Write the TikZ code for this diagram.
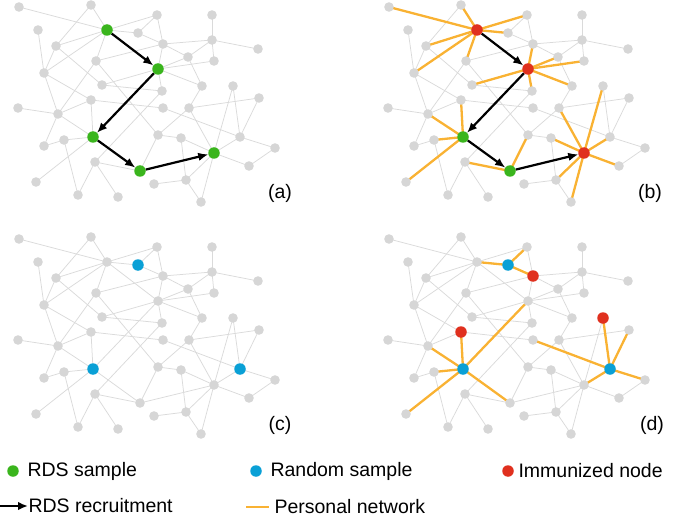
\documentclass[tikz,border=0pt]{standalone}
\usepackage{fontspec}
\setmainfont{Liberation Sans}
\usetikzlibrary{arrows.meta}
\pgfdeclarelayer{bg}\pgfsetlayers{bg,main}
\definecolor{ngray}{HTML}{D6D6D6}
\definecolor{egray}{HTML}{DADADA}
\definecolor{rdsgreen}{HTML}{3AB51D}
\definecolor{rndblue}{HTML}{0AA0D6}
\definecolor{immred}{HTML}{E0301E}
\definecolor{pnorange}{HTML}{F9B233}
\newcommand\netnodes{A/19/7,B/91/5,C/38/30,D/107/30,E/56/46,F/96/61,G/44/73,H/102/85,I/91/100,J/157/15,K/138/33,L/163/44,M/212/15,N/212/40,O/188/57,P/214/61,Q/158/69,R/202/86,S/233/86,T/162/91,U/258/49,V/259/98,W/18/108,X/58/114,Y/93/137,Z/64/140,a/44/146,b/95/162,c/36/182,d/78/195,e/118/197,f/163/108,g/189/108,h/158/135,i/181/138,j/240/137,k/214/153,l/140/171,m/154/184,n/186/180,o/249/166,p/201/202,q/275/148}
\newcommand\netedges{A/D,B/D,B/E,C/G,E/D,E/G,E/H,D/F,D/G,D/J,D/K,D/Q,J/K,J/L,K/L,L/N,L/F,L/O,L/Q,M/N,N/O,N/P,N/U,O/R,O/Q,P/Q,Q/H,Q/R,Q/T,Q/Y,H/T,F/X,G/X,G/I,I/X,I/Y,I/f,F/h,R/g,g/V,g/h,g/k,h/l,h/i,i/n,i/k,j/S,j/V,j/q,j/k,j/f,k/S,k/o,k/n,k/p,k/l,q/o,l/Y,l/b,b/d,b/e,b/T,W/X,X/Y,X/a,Z/a,Z/d,Z/Y,c/Y,m/n,n/p}
\newcommand\drawnet[3]{%
  \foreach \n/\x/\y in \netnodes {\node[gnode] (#1\n) at (\x+#2,\y+#3) {};}
  \begin{pgfonlayer}{bg}
    \foreach \u/\v in \netedges {\draw[edge] (#1\u.center) -- (#1\v.center);}
  \end{pgfonlayer}}
\begin{document}
\begin{tikzpicture}[x=1pt,y=-1pt,
  gnode/.style={circle,fill=ngray,inner sep=0pt,minimum size=9.6pt},
  cnode/.style={circle,inner sep=0pt,minimum size=11.5pt},
  edge/.style={egray,line width=0.75pt},
  pedge/.style={pnorange,line width=2.3pt},
  rec/.style={black,line width=2.2pt,-{Latex[length=10pt,width=8.5pt]}},
  lab/.style={font=\fontsize{19.5}{22}\selectfont}]
\useasboundingbox (0,0) rectangle (675,524);
% ---------- panel (a)
\drawnet{a}{0}{0}
\foreach \n in {D,Q,Y,l,k} {\node[cnode,fill=rdsgreen] (ag\n) at (a\n) {};}
\draw[rec] (agD) -- (agQ);
\draw[rec] (agQ) -- (agY);
\draw[rec] (agY) -- (agl);
\draw[rec] (agl) -- (agk);
\node[lab] (la) at (280,193) {(a)};
% ---------- panel (b)
\drawnet{b}{370}{0}
\begin{pgfonlayer}{bg}
  \foreach \u/\v in {D/A,D/B,D/J,D/K,D/E,D/G,D/F,Q/L,Q/O,Q/P,Q/R,Q/T,Q/H,Y/I,Y/X,Y/Z,Y/c,l/b,l/h,k/g,k/S,k/j,k/o,k/n,k/p,k/i}
    {\draw[pedge] (b\u.center) -- (b\v.center);}
\end{pgfonlayer}
\foreach \n in {D,Q,k} {\node[cnode,fill=immred] (br\n) at (b\n) {};}
\foreach \n in {Y,l} {\node[cnode,fill=rdsgreen] (bg\n) at (b\n) {};}
\draw[rec] (brD) -- (brQ);
\draw[rec] (brQ) -- (bgY);
\draw[rec] (bgY) -- (bgl);
\draw[rec] (bgl) -- (brk);
\node[lab] (lb) at (650,193) {(b)};
% ---------- panel (c)
\drawnet{c}{0}{232}
\foreach \n in {K,Y,j} {\node[cnode,fill=rndblue] (cb\n) at (c\n) {};}
\node[lab] (lc) at (280,425) {(c)};
% ---------- panel (d)
\drawnet{d}{370}{232}
\begin{pgfonlayer}{bg}
  \foreach \u/\v in {K/D,K/J,K/L,Y/I,Y/X,Y/Z,Y/c,Y/Q,Y/l,j/S,j/V,j/q,j/k,j/f}
    {\draw[pedge] (d\u.center) -- (d\v.center);}
\end{pgfonlayer}
\foreach \n in {L,I,S} {\node[cnode,fill=immred] (dr\n) at (d\n) {};}
\foreach \n in {K,Y,j} {\node[cnode,fill=rndblue] (db\n) at (d\n) {};}
\node[lab] (ld) at (652,425) {(d)};
% ---------- legend
\node[cnode,fill=rdsgreen] (lg1) at (13,471) {};
\node[lab,anchor=west] (lg1t) at (24,471) {RDS sample};
\node[cnode,fill=rndblue] (lg2) at (256,471) {};
\node[lab,anchor=west] (lg2t) at (267,471) {Random sample};
\node[cnode,fill=immred] (lg3) at (508,471) {};
\node[lab,anchor=west] (lg3t) at (515,471) {Immunized node};
\coordinate (ra1) at (0,506);
\coordinate (ra2) at (28,506);
\draw[rec] (ra1) -- (ra2);
\node[lab,anchor=west] (lg4t) at (25,506) {RDS recruitment};
\coordinate (po1) at (246,507);
\coordinate (po2) at (269,507);
\draw[pedge] (po1) -- (po2);
\node[lab,anchor=west] (lg5t) at (271,507) {Personal network};
\end{tikzpicture}
\end{document}
